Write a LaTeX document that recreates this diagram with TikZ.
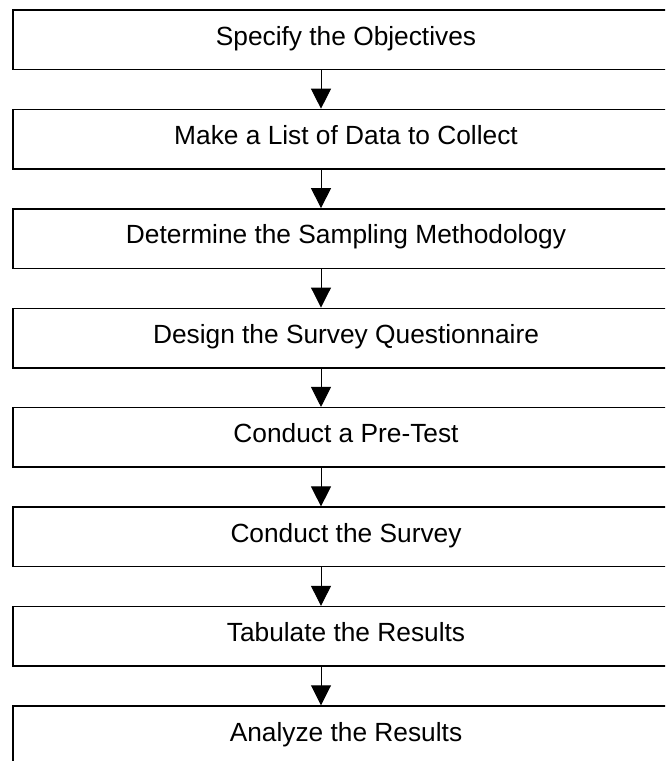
\documentclass[tikz,border=0pt]{standalone}
\usepackage{fontspec}
\setmainfont{Liberation Sans}
\usetikzlibrary{arrows.meta}
\begin{document}
\begin{tikzpicture}[x=1pt,y=-1pt,
  stepbox/.style={draw=black, line width=1.5pt, rectangle, inner sep=0pt,
    minimum width=666pt, minimum height=59.5pt,
    text height=19pt, text depth=8.5pt,
    font=\fontsize{26.3}{30}\selectfont},
  flow/.style={draw=black, line width=1pt, -{Triangle[length=20pt,width=20pt]}}]
  % visible page; the boxes run past the right and bottom edges
  \path[use as bounding box, clip] (0,0) rectangle (665,761);
  \node[stepbox] (s1) at (346, 39.75) {Specify the Objectives};
  \node[stepbox] (s2) at (346, 139.18) {Make a List of Data to Collect};
  \node[stepbox] (s3) at (346, 238.61) {Determine the Sampling Methodology};
  \node[stepbox] (s4) at (346, 338.04) {Design the Survey Questionnaire};
  \node[stepbox] (s5) at (346, 437.47) {Conduct a Pre-Test};
  \node[stepbox] (s6) at (346, 536.90) {Conduct the Survey};
  \node[stepbox] (s7) at (346, 636.33) {Tabulate the Results};
  \node[stepbox] (s8) at (346, 735.76) {Analyze the Results};
  % connectors sit left of the box centres
  \foreach \a/\b in {s1/s2, s2/s3, s3/s4, s4/s5, s5/s6, s6/s7, s7/s8}
    \draw[flow] ([xshift=-25pt]\a.south) -- ([xshift=-25pt]\b.north);
\end{tikzpicture}
\end{document}
